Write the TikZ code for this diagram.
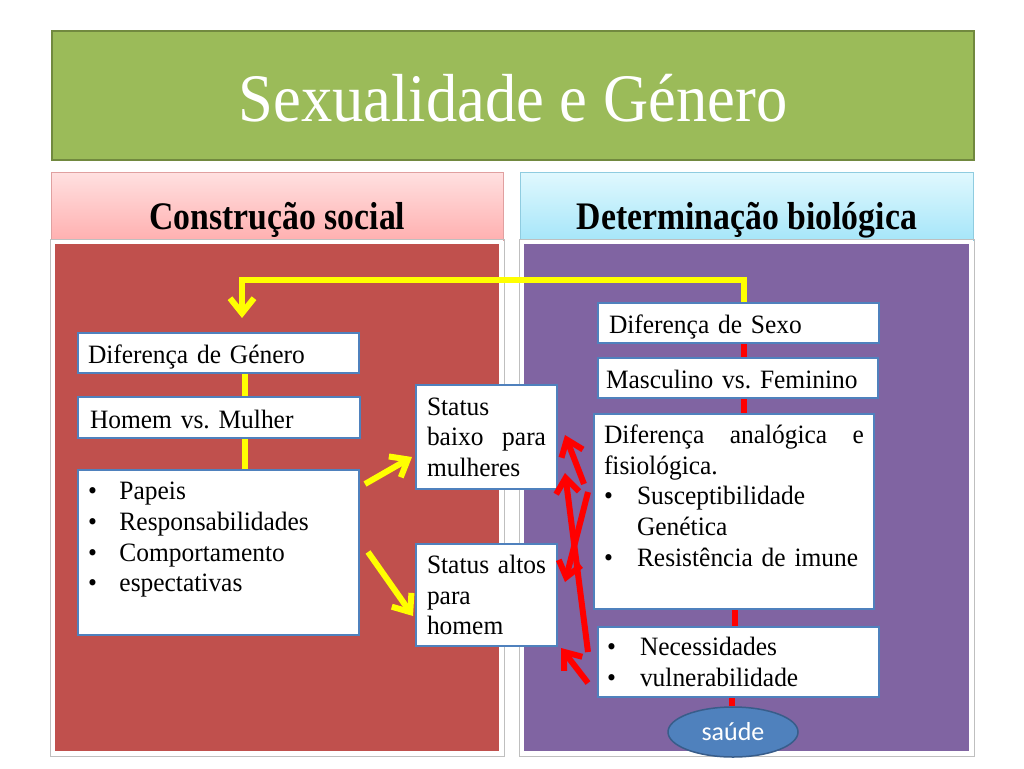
\documentclass[tikz,border=0pt]{standalone}
\usepackage{fontspec}
\setmainfont{Liberation Serif}
\newfontfamily\titlefont[FakeStretch=0.92]{Liberation Serif}
\newfontfamily\headfont[FakeStretch=0.865]{Liberation Serif}
\newfontfamily\bodyfam[FakeStretch=0.96]{Liberation Serif}
\newfontfamily\calibfont{Carlito}
\usetikzlibrary{arrows.meta,shapes.geometric}
\definecolor{tgreen}{HTML}{9BBB59}
\definecolor{tgreenD}{HTML}{71893F}
\definecolor{pinkT}{HTML}{FFE0E0}
\definecolor{pinkB}{HTML}{FFB0B0}
\definecolor{pinkD}{HTML}{E0A0A0}
\definecolor{cyanT}{HTML}{E0F8FE}
\definecolor{cyanB}{HTML}{A6E6F9}
\definecolor{cyanD}{HTML}{8FCCE0}
\definecolor{redbody}{HTML}{C0504D}
\definecolor{purbody}{HTML}{8064A2}
\definecolor{boxblue}{HTML}{4F81BD}
\definecolor{sblue}{HTML}{4F81BD}
\definecolor{sblueD}{HTML}{385D8A}
\definecolor{yel}{HTML}{FFFF00}
\definecolor{redl}{HTML}{FF0000}
\newcommand\mybul[2]{\makebox[#1][l]{\textbullet}#2}
\frenchspacing
\begin{document}
\begin{tikzpicture}[x=1pt,y=-1pt,
  titlebox/.style={anchor=north west, minimum width=922pt, minimum height=129pt,
    fill=tgreen, draw=tgreenD, line width=2pt, text=white, inner sep=0pt,
    font=\titlefont\fontsize{68}{80}\selectfont, text height=51pt, text depth=0pt},
  headbox/.style={anchor=north west, minimum height=68pt, line width=0.8pt,
    inner sep=0pt, font=\headfont\bfseries\fontsize{39}{46}\selectfont,
    text height=46pt, text depth=0pt},
  wbox/.style={draw=boxblue, line width=2pt, fill=white, anchor=north west,
    inner xsep=10pt, inner ysep=0pt, align=left,
    font=\bodyfam\frenchspacing\fontsize{26.5}{30.6}\selectfont},
  oneline/.style={text height=21pt, text depth=0pt},
  ylink/.style={draw=yel, line width=6pt},
  rlink/.style={draw=redl, line width=6pt},
  yarrow/.style={-{Straight Barb[length=15pt,width=24pt]}},
  rarrow/.style={-{Straight Barb[length=15pt,width=23pt]}}
]
\useasboundingbox (0,0) rectangle (1024,768);
\fill[white] (0,0) rectangle (1024,768);

% title
\node[titlebox] (title) at (51,30) {Sexualidade e Género};

% headers
\node[headbox, minimum width=452pt, top color=pinkT, bottom color=pinkB, draw=pinkD] (hl) at (51,172) {Construção social};
\node[headbox, minimum width=453pt, top color=cyanT, bottom color=cyanB, draw=cyanD] (hr) at (520,172) {Determinação biológica};

% panels
\draw[black!25, line width=1pt] (50,239) rectangle (504,756);
\draw[fill=redbody, draw=white, line width=4pt] (53,242) rectangle (501,753);
\draw[black!25, line width=1pt] (519,239) rectangle (974,756);
\draw[fill=purbody, draw=white, line width=4pt] (522,242) rectangle (971,753);

% left boxes
\node[wbox, oneline, text width=261pt, minimum height=40pt] (dgen) at (77,332) {Diferença de Género};
\node[wbox, oneline, inner xsep=12pt, text width=258pt, minimum height=41pt] (hm) at (77,396) {Homem vs. Mulher};
\node[wbox, text width=261pt, minimum height=165pt] (pap) at (77,469)
  {\mybul{31.5pt}{Papeis}\\ \mybul{31.5pt}{Responsabilidades}\\ \mybul{31.5pt}{Comportamento}\\ \mybul{31.5pt}{espectativas}\rule[-31pt]{0pt}{31pt}};

% status boxes
\node[wbox, inner xsep=11pt, text width=119pt, minimum height=104pt] (sb) at (415,384) {Status\\ baixo\hfill para\\ mulheres};
\node[wbox, inner xsep=11pt, text width=119pt, minimum height=102pt] (sa) at (415,543) {Status\hfill altos\\ para\\ homem};

% right boxes
\node[wbox, oneline, inner xsep=11pt, text width=259pt, minimum height=40pt] (dsexo) at (597,302) {Diferença de Sexo};
\node[wbox, oneline, inner xsep=8pt, text width=264pt, minimum height=40pt] (mf) at (597,357) {Masculino vs. Feminino};
\node[wbox, inner xsep=10pt, text width=260pt, minimum height=195pt] (ana) at (593,413)
  {Diferença\hfill analógica\hfill e\\ fisiológica.\\ \mybul{33pt}{Susceptibilidade}\\ \hspace*{33pt}Genética\\ \mybul{33pt}{Resistência de imune}\rule[-32pt]{0pt}{32pt}};
\node[wbox, inner xsep=9pt, text width=263pt, minimum height=70pt] (nec) at (597,626)
  {\mybul{33pt}{Necessidades}\\ \mybul{33pt}{vulnerabilidade}};

\node[ellipse, fill=sblue, draw=sblueD, line width=1.5pt, minimum width=130pt, minimum height=50pt,
  inner sep=0pt, text=white, font=\calibfont\fontsize{26}{30}\selectfont] (saude) at (733,732) {saúde};

% reference x positions
\coordinate (cyl) at (245,0);
\coordinate (crs) at (744,0);
\coordinate (cra) at (735,0);
\coordinate (crn) at (732,0);

% yellow links
\draw[ylink] (dgen.south -| cyl) -- (hm.north -| cyl);
\draw[ylink] (hm.south -| cyl) -- (pap.north -| cyl);
\coordinate (ytop) at (242,280);
\coordinate (ytipc) at (242,318);
\draw[ylink, yarrow] (dsexo.north -| crs) |- (ytop) -- (ytipc);
\coordinate (y1s) at (365,484);
\coordinate (y1e) at (412,457);
\coordinate (y2s) at (368,552);
\coordinate (y2e) at (413,616);
\draw[ylink, yarrow] (y1s) -- (y1e);
\draw[ylink, yarrow] (y2s) -- (y2e);

% red links
\draw[rlink] (dsexo.south -| crs) -- (mf.north -| crs);
\draw[rlink] (mf.south -| crs) -- (ana.north -| crs);
\draw[rlink] (ana.south -| cra) -- (nec.north -| cra);
\draw[rlink] (nec.south -| crn) -- (saude.north -| crn);

\coordinate (r1s) at (584,484);
\coordinate (r1e) at (565,435);
\coordinate (r2s) at (588,652);
\coordinate (r2e) at (565,473);
\coordinate (r3s) at (588,492);
\coordinate (r3e) at (565,582);
\coordinate (r4s) at (588,683);
\coordinate (r4e) at (561,648);
\draw[rlink, rarrow] (r1s) -- (r1e);
\draw[rlink, rarrow] (r2s) -- (r2e);
\draw[rlink, rarrow] (r3s) -- (r3e);
\draw[rlink, rarrow] (r4s) -- (r4e);
\end{tikzpicture}
\end{document}
